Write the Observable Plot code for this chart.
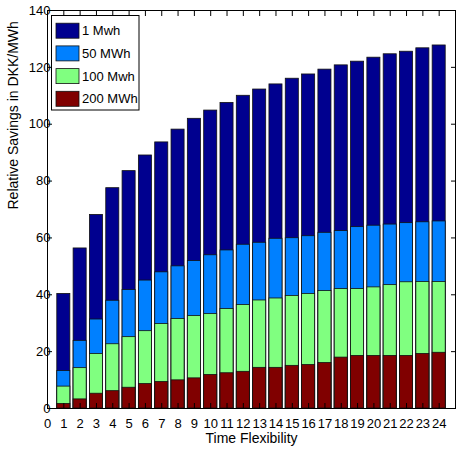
<!DOCTYPE html>
<html>
<head>
<meta charset="utf-8">
<script src="https://cdn.jsdelivr.net/npm/d3@7"></script>
<script src="https://cdn.jsdelivr.net/npm/@observablehq/plot@0.6"></script>
<style>
  html, body { margin: 0; padding: 0; background: white; }
</style>
</head>
<body>
<div id="chart"></div>
<script>
const times = d3.range(1, 25);
const series = ["1 Mwh", "50 MWh", "100 Mwh", "200 MWh"];
const colors = ["#00008f", "#0080ff", "#80ff80", "#800000"];
const v1 = [40.3, 56.3, 68.1, 77.5, 83.5, 89.0, 93.6, 98.1, 101.9, 104.8, 107.5, 110.0, 112.2, 114.0, 116.0, 117.5, 119.2, 120.7, 122.0, 123.4, 124.6, 125.5, 126.7, 127.7];
const v50 = [13.2, 23.8, 31.3, 37.9, 41.7, 45.0, 47.9, 50.0, 51.9, 53.9, 55.6, 57.6, 58.3, 59.7, 59.9, 60.6, 61.8, 62.4, 63.8, 64.3, 64.7, 65.2, 65.5, 65.8];
const v100 = [7.7, 14.2, 19.2, 22.6, 25.1, 27.2, 29.7, 31.5, 32.5, 33.2, 35.0, 36.4, 38.0, 38.7, 39.6, 40.3, 41.3, 42.0, 42.0, 42.6, 43.4, 44.4, 44.5, 44.5];
const v200 = [1.6, 3.2, 5.2, 6.1, 7.3, 8.6, 9.3, 9.9, 10.6, 11.8, 12.4, 12.9, 14.3, 14.3, 15.0, 15.3, 16.0, 17.9, 18.5, 18.5, 18.5, 18.5, 19.2, 19.6];
const xTicks = d3.range(0, 25);
const yTicks = d3.range(0, 141, 20);
const xLabel = "Time Flexibility";
const yLabel = "Relative Savings in DKK/MWh";

const allValues = [v1, v50, v100, v200];
const data = series.flatMap((s, k) => allValues[k].map((v, i) => ({t: times[i], v, s})));

const font = "Liberation Sans, Arial, Helvetica, sans-serif";

const chart = Plot.plot({
  width: 457,
  height: 452,
  marginLeft: 47,
  marginRight: 2,
  marginTop: 10,
  marginBottom: 44,
  style: {fontFamily: font, fontSize: "13px", background: "white", color: "black"},
  x: {domain: [0, 25]},
  y: {domain: [0, 140]},
  color: {domain: series, range: colors},
  marks: [
    Plot.rectY(data, {x1: d => d.t - 0.4, x2: d => d.t + 0.4, y1: 0, y2: "v", fill: "s", stroke: "#111", strokeWidth: 0.8}),
    Plot.frame({stroke: "black", strokeWidth: 1}),
    Plot.axisX({ticks: xTicks, tickSize: -5, tickPadding: 15, label: null, fontSize: 13}),
    Plot.axisX({anchor: "top", ticks: xTicks, tickSize: -5, tickFormat: () => "", label: null}),
    Plot.axisY({ticks: yTicks, tickSize: -5, tickPadding: 2, label: null, fontSize: 13}),
    Plot.axisY({anchor: "right", ticks: yTicks, tickSize: -5, tickFormat: () => "", label: null}),
    Plot.text([xLabel], {frameAnchor: "bottom", lineAnchor: "top", dy: 25, fontSize: 14}),
    Plot.text([yLabel], {frameAnchor: "left", rotate: -90, dx: -34, fontSize: 14})
  ]
});

// Legend (MATLAB style, inside top-left)
const svg = d3.select(chart);
const lg = svg.append("g").attr("font-family", font).attr("font-size", 13).attr("text-anchor", "start");
lg.append("rect").attr("x", 51.5).attr("y", 15.5).attr("width", 87.5).attr("height", 94.5)
  .attr("fill", "white").attr("stroke", "black").attr("stroke-width", 1);
series.forEach((s, i) => {
  const cy = 30.7 + i * 22.7;
  lg.append("rect").attr("x", 56).attr("y", cy - 7.5).attr("width", 23).attr("height", 15)
    .attr("fill", colors[i]).attr("stroke", "#111").attr("stroke-width", 0.8);
  lg.append("text").attr("x", 82).attr("y", cy).attr("dy", "0.35em").attr("fill", "black").text(s);
});

document.getElementById("chart").appendChild(chart);
</script>
</body>
</html>
